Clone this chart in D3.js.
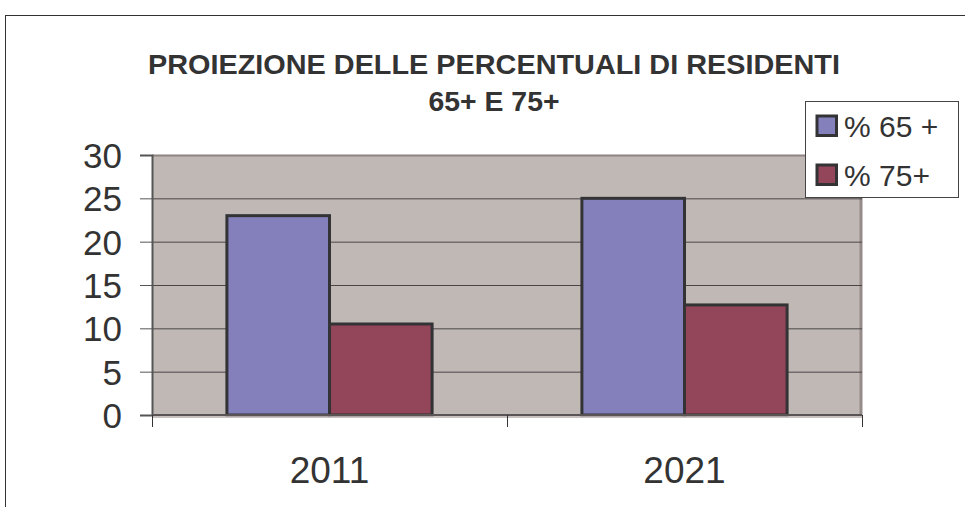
<!DOCTYPE html>
<html><head><meta charset="utf-8">
<script src="https://cdnjs.cloudflare.com/ajax/libs/d3/7.8.5/d3.min.js"></script>
<style>
body{margin:0;background:#fff;}
svg{display:block;font-family:"Liberation Sans",Arial,sans-serif;}
</style></head>
<body><svg id="c" width="965" height="507"></svg>
<script>
const categories = ["2011", "2021"];
const seriesNames = ["% 65 +", "% 75+"];
const values65 = [23, 25];
const values75 = [10.5, 12.7];
const yTicks = [0, 5, 10, 15, 20, 25, 30];
const titleLines = ["PROIEZIONE DELLE PERCENTUALI DI RESIDENTI", "65+ E 75+"];
const colors = ["#8480BC", "#934559"];

const svg = d3.select("#c");
const m = {left: 152, top: 155, right: 862, bottom: 415};

// outer border
svg.append("rect").attr("x", 5.5).attr("y", 15.5).attr("width", 1000).attr("height", 1000)
  .attr("fill", "#fff").attr("stroke", "#333").attr("stroke-width", 1);

const x = d3.scaleBand().domain(categories).range([m.left, m.right]).padding(0);
const bw = x.bandwidth();
const x1 = d3.scaleBand().domain(seriesNames).range([0.211 * bw, 0.789 * bw]).padding(0);
const y = d3.scaleLinear().domain([0, 30]).range([m.bottom, m.top]);

// plot area background
svg.append("rect").attr("x", m.left).attr("y", m.top).attr("width", m.right - m.left).attr("height", m.bottom - m.top)
  .attr("fill", "#C0B8B5");
svg.append("line").attr("x1", m.left).attr("x2", m.right).attr("y1", m.top + 0.5).attr("y2", m.top + 0.5)
  .attr("stroke", "#8E8482").attr("stroke-width", 2);
svg.append("line").attr("x1", m.right - 1).attr("x2", m.right - 1).attr("y1", m.top).attr("y2", m.bottom)
  .attr("stroke", "#958B89").attr("stroke-width", 3);

// gridlines
const grid = svg.append("g").attr("transform", `translate(${m.left},0)`)
  .call(d3.axisLeft(y).tickValues(yTicks.filter(t => t > 0 && t < 30)).tickSize(-(m.right - m.left)).tickFormat(""));
grid.select(".domain").remove();
grid.selectAll(".tick line").attr("stroke", "#4a4646").attr("stroke-width", 1);

// bars
const data = categories.map((c, i) => ({cat: c, vals: [values65[i], values75[i]]}));
const groups = svg.append("g").selectAll("g").data(data).join("g")
  .attr("transform", d => `translate(${x(d.cat)},0)`);
groups.selectAll("rect").data(d => d.vals.map((v, j) => ({v, s: seriesNames[j], j})))
  .join("rect")
  .attr("x", d => x1(d.s))
  .attr("y", d => y(d.v))
  .attr("width", x1.bandwidth())
  .attr("height", d => y(0) - y(d.v))
  .attr("fill", d => colors[d.j])
  .attr("stroke", "#333336").attr("stroke-width", 3);

// y axis
const ya = svg.append("g").attr("transform", `translate(${m.left},0)`)
  .call(d3.axisLeft(y).tickValues(yTicks).tickSize(12).tickPadding(18));
ya.select(".domain").attr("stroke", "#555").attr("stroke-width", 2);
ya.selectAll(".tick line").attr("stroke", "#555");
ya.selectAll(".tick text").attr("font-size", 35).attr("fill", "#333")
  .attr("font-family", "Liberation Sans, Arial, sans-serif").attr("dy", "0.36em");

// x axis baseline
svg.append("line").attr("x1", m.left).attr("x2", m.right).attr("y1", m.bottom).attr("y2", m.bottom)
  .attr("stroke", "#5a5454").attr("stroke-width", 2);
svg.append("line").attr("x1", m.left).attr("x2", m.right).attr("y1", m.bottom + 2).attr("y2", m.bottom + 2)
  .attr("stroke", "#b5adab").attr("stroke-width", 1.5);
const bounds = categories.map(c => x(c)).concat([x(categories[categories.length - 1]) + bw]);
svg.append("g").selectAll("line").data(bounds).join("line")
  .attr("x1", d => Math.round(d) + 0.5).attr("x2", d => Math.round(d) + 0.5)
  .attr("y1", m.bottom).attr("y2", m.bottom + 12).attr("stroke", "#333");
const xa = svg.append("g").attr("transform", `translate(0,${m.bottom})`)
  .call(d3.axisBottom(x).tickSize(0).tickPadding(0));
xa.select(".domain").remove();
xa.selectAll(".tick text").attr("font-size", 37).attr("fill", "#333").attr("dy", null).attr("y", 67.5)
  .attr("font-family", "Liberation Sans, Arial, sans-serif");

// title
const tcx = 494;
svg.append("text").attr("x", tcx).attr("y", 73.5).attr("text-anchor", "middle")
  .attr("font-weight", "bold").attr("font-size", 28).attr("fill", "#333")
  .attr("textLength", 692).attr("lengthAdjust", "spacingAndGlyphs").text(titleLines[0]);
svg.append("text").attr("x", tcx).attr("y", 111).attr("text-anchor", "middle")
  .attr("font-weight", "bold").attr("font-size", 28).attr("fill", "#333")
  .attr("textLength", 131).attr("lengthAdjust", "spacingAndGlyphs").text(titleLines[1]);

// legend
const lg = svg.append("g");
lg.append("rect").attr("x", 805.5).attr("y", 101.5).attr("width", 153).attr("height", 96)
  .attr("fill", "#fff").attr("stroke", "#444").attr("stroke-width", 1);
const items = lg.selectAll("g.it").data(seriesNames).join("g").attr("class", "it")
  .attr("transform", (d, i) => `translate(0,${i * 49})`);
items.append("rect").attr("x", 817).attr("y", 116).attr("width", 19.5).attr("height", 19.5)
  .attr("fill", (d, i) => colors[i]).attr("stroke", "#333336").attr("stroke-width", 3);
items.append("text").attr("x", 844).attr("y", 137).attr("font-size", 30).attr("fill", "#333")
  .text(d => d);
</script></body></html>
